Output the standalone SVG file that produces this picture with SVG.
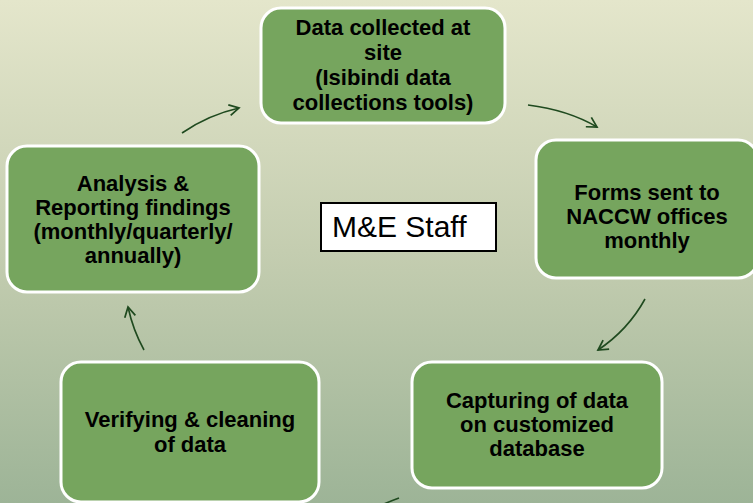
<svg xmlns="http://www.w3.org/2000/svg" width="753" height="503" viewBox="0 0 753 503">
<defs>
<linearGradient id="bg" x1="0" y1="0" x2="0" y2="1">
<stop offset="0" stop-color="#e4e6cb"/>
<stop offset="0.5" stop-color="#c4cdb0"/>
<stop offset="1" stop-color="#9db497"/>
</linearGradient>
<marker id="ah" viewBox="0 0 12 12" refX="10" refY="6" markerWidth="13" markerHeight="13" markerUnits="userSpaceOnUse" orient="auto">
<path d="M1,1 L10,6 L1,11" fill="none" stroke="#1f4a1f" stroke-width="1.6"/>
</marker>
<style>
.node{fill:#76a55e;stroke:#ffffff;stroke-width:3}
.t{font-family:"Liberation Sans",Arial,sans-serif;font-weight:bold;font-size:22px;fill:#000;text-anchor:middle}
.c{fill:none;stroke:#1f4a1f;stroke-width:1.6;marker-end:url(#ah)}
</style>
</defs>
<rect width="753" height="503" fill="url(#bg)"/>
<g id="connectors">
<path class="c" d="M182,133 Q208,115 239,108"/>
<path class="c" d="M528,105 Q568,110 597,127"/>
<path class="c" d="M645,299 Q628,330 598,350"/>
<path class="c" d="M399,498 Q380,505 360,515"/>
<path class="c" d="M144,350 Q133,330 128,307"/>
</g>
<g id="node-collect">
<rect class="node" x="261" y="8" width="244" height="115" rx="20"/>
<text class="t" x="383" y="35">Data collected at</text>
<text class="t" x="383" y="60">site</text>
<text class="t" x="383" y="85">(Isibindi data</text>
<text class="t" x="383" y="110">collections tools)</text>
</g>
<g id="node-forms">
<rect class="node" x="536" y="140" width="222" height="138" rx="20"/>
<text class="t" x="647" y="200">Forms sent to</text>
<text class="t" x="647" y="224">NACCW offices</text>
<text class="t" x="647" y="248">monthly</text>
</g>
<g id="node-capture">
<rect class="node" x="412" y="362" width="250" height="126" rx="20"/>
<text class="t" x="537" y="408">Capturing of data</text>
<text class="t" x="537" y="432">on customized</text>
<text class="t" x="537" y="456">database</text>
</g>
<g id="node-verify">
<rect class="node" x="61" y="362" width="258" height="140" rx="20"/>
<text class="t" x="190" y="427">Verifying &amp; cleaning</text>
<text class="t" x="190" y="452">of data</text>
</g>
<g id="node-analysis">
<rect class="node" x="7" y="146" width="252" height="146" rx="20"/>
<text class="t" x="133" y="191">Analysis &amp;</text>
<text class="t" x="133" y="215">Reporting findings</text>
<text class="t" x="133" y="239">(monthly/quarterly/</text>
<text class="t" x="133" y="263">annually)</text>
</g>
<g id="node-staff">
<rect x="321" y="203" width="175" height="48" fill="#ffffff" stroke="#000000" stroke-width="2"/>
<text x="332" y="237" font-family="Liberation Sans,Arial,sans-serif" font-size="30" fill="#000">M&amp;E Staff</text>
</g>
</svg>
